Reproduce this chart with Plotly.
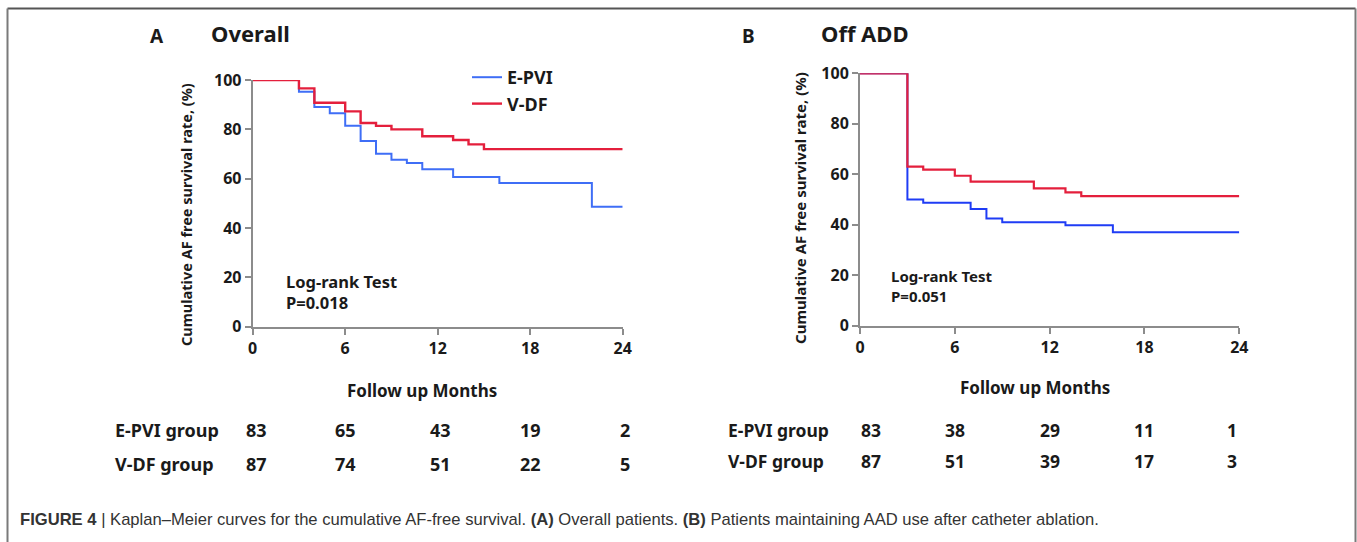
import plotly.graph_objects as go

W, H = 1357, 542

# ---------------- data ----------------
months_ticks = [0, 6, 12, 18, 24]
y_ticks = [0, 20, 40, 60, 80, 100]

a_epvi_t = [0, 3, 4, 5, 6, 7, 8, 9, 10, 11, 13, 16, 22, 24]
a_epvi_s = [100, 95.2, 89.1, 86.5, 81.5, 75.3, 70.1, 67.7, 66.4, 63.8, 60.7, 58.2, 48.6, 48.6]
a_vdf_t = [0, 3, 4, 6, 7, 8, 9, 11, 13, 14, 15, 24]
a_vdf_s = [100, 96.6, 90.8, 87.3, 82.6, 81.4, 80.0, 77.2, 75.7, 73.9, 72.0, 72.0]

b_epvi_t = [0, 3, 4, 7, 8, 9, 13, 16, 24]
b_epvi_s = [100, 50.0, 48.7, 46.2, 42.5, 41.0, 39.8, 37.0, 37.0]
b_vdf_t = [0, 3, 4, 6, 7, 11, 13, 14, 24]
b_vdf_s = [100, 63.0, 61.8, 59.4, 57.1, 54.4, 52.8, 51.3, 51.3]

risk_groups = ["E-PVI group", "V-DF group"]
a_risk_epvi = [83, 65, 43, 19, 2]
a_risk_vdf = [87, 74, 51, 22, 5]
b_risk_epvi = [83, 38, 29, 11, 1]
b_risk_vdf = [87, 51, 39, 17, 3]

# ---------------- style ----------------
FONT = "Noto Sans"
TXT = "#1a1a1a"
BLUE_A = "#3f6ef6"
BLUE_B = "#1f3cf5"
RED = "#e41f3c"
AXC = "#8c8c8c"


def px(x):
    return x / W


def py(y):
    return 1 - y / H


fig = go.Figure()

fig.add_trace(go.Scatter(x=a_epvi_t, y=a_epvi_s, mode="lines", line=dict(shape="hv", color=BLUE_A, width=2),
                         name="E-PVI", xaxis="x", yaxis="y", cliponaxis=False, legendrank=1))
fig.add_trace(go.Scatter(x=a_vdf_t, y=a_vdf_s, mode="lines", line=dict(shape="hv", color=RED, width=2.4),
                         name="V-DF", xaxis="x", yaxis="y", cliponaxis=False, legendrank=2))
fig.add_trace(go.Scatter(x=b_epvi_t, y=b_epvi_s, mode="lines", line=dict(shape="hv", color=BLUE_B, width=2),
                         name="E-PVI", xaxis="x2", yaxis="y2", cliponaxis=False, showlegend=False))
fig.add_trace(go.Scatter(x=b_vdf_t, y=b_vdf_s, mode="lines", line=dict(shape="hv", color=RED, width=2.2),
                         name="V-DF", xaxis="x2", yaxis="y2", cliponaxis=False, showlegend=False))

axis_common = dict(
    showgrid=False, zeroline=False, showline=True, linecolor=AXC, linewidth=2,
    ticks="outside", ticklen=6, tickwidth=2, tickcolor=AXC,
    tickfont=dict(family=FONT, size=16, color=TXT, weight="bold"), fixedrange=True,
)

fig.update_layout(
    width=W, height=H,
    margin=dict(l=0, r=0, t=0, b=0, autoexpand=False),
    paper_bgcolor="white", plot_bgcolor="white",
    font=dict(family=FONT, color=TXT),
    xaxis=dict(domain=[px(252.7), px(622.7)], range=[0, 24], tickvals=months_ticks, anchor="y", **axis_common),
    yaxis=dict(domain=[py(326.7), py(80)], range=[0, 100], tickvals=y_ticks, anchor="x", **axis_common),
    xaxis2=dict(domain=[px(860), px(1239.3)], range=[0, 24], tickvals=months_ticks, anchor="y2", **axis_common),
    yaxis2=dict(domain=[py(325.7), py(73.3)], range=[0, 100], tickvals=y_ticks, anchor="x2", **axis_common),
    showlegend=True,
    legend=dict(x=px(467), y=py(59), xanchor="left", yanchor="top", bgcolor="rgba(0,0,0,0)",
                font=dict(family=FONT, size=18, color=TXT, weight="bold"), tracegroupgap=0),
)

ann = []


def text(x, y, s, size, xanchor="left", bold=True, xref="paper", yref="paper", angle=0, yanchor="middle",
         color=TXT, family=FONT, xshift=0):
    ann.append(dict(x=x, y=y, xref=xref, yref=yref, text=(f"<b>{s}</b>" if bold else s), showarrow=False,
                    xanchor=xanchor, yanchor=yanchor, textangle=angle, xshift=xshift,
                    font=dict(family=family, size=size, color=color)))


# panel titles
text(px(148), py(36), "A", 19)
text(px(209), py(33), "Overall", 22)
text(px(740), py(36), "B", 19)
text(px(819), py(33), "Off ADD", 22)

# y-axis titles
text(px(186), py(215), "Cumulative AF free survival rate, (%)", 14.5, xanchor="center", angle=-90)
text(px(800), py(208), "Cumulative AF free survival rate, (%)", 15, xanchor="center", angle=-90)

# log-rank
text(2.0, 18.2, "Log-rank Test", 16.5, xref="x", yref="y")
text(2.0, 10.0, "P=0.018", 16.5, xref="x", yref="y")
text(1.85, 19.6, "Log-rank Test", 15, xref="x2", yref="y2")
text(1.85, 11.8, "P=0.051", 15, xref="x2", yref="y2")

# x titles
text(px(422), py(390), "Follow up Months", 17, xanchor="center")
text(px(1035), py(387), "Follow up Months", 17, xanchor="center")

# risk tables
a_shift = [4, 0, 3, 0, 2]
b_shift = [11, 0, 0, 0, -7]
for lab, row, yy in [(risk_groups[0], a_risk_epvi, 430), (risk_groups[1], a_risk_vdf, 464)]:
    text(px(113), py(yy), lab, 18)
    for m, v, s in zip(months_ticks, row, a_shift):
        text(m, py(yy), str(v), 18, xanchor="center", xref="x", xshift=s)
for lab, row, yy in [(risk_groups[0], b_risk_epvi, 430), (risk_groups[1], b_risk_vdf, 461)]:
    text(px(726), py(yy), lab, 17.5)
    for m, v, s in zip(months_ticks, row, b_shift):
        text(m, py(yy), str(v), 17.5, xanchor="center", xref="x2", xshift=s)

# caption
cap = ("<b>FIGURE 4</b> | Kaplan–Meier curves for the cumulative AF-free survival. <b>(A)</b> Overall patients. "
       "<b>(B)</b> Patients maintaining AAD use after catheter ablation.")
ann.append(dict(x=px(18), y=py(519), xref="paper", yref="paper", text=cap, showarrow=False,
                xanchor="left", yanchor="middle",
                font=dict(family="Liberation Sans Narrow, Liberation Sans, Arial", size=16.6, color="#333333")))

fig.update_layout(annotations=ann)

# frame
shapes = [
    dict(type="line", xref="paper", yref="paper", x0=px(7.5), x1=px(1355.5), y0=py(8.5), y1=py(8.5),
         line=dict(color="#555555", width=2)),
    dict(type="line", xref="paper", yref="paper", x0=px(7.5), x1=px(7.5), y0=py(8.5), y1=0,
         line=dict(color="#7a7a7a", width=2)),
    dict(type="line", xref="paper", yref="paper", x0=px(1355.5), x1=px(1355.5), y0=py(8.5), y1=0,
         line=dict(color="#7a7a7a", width=2)),
]
fig.update_layout(shapes=shapes)

fig.write_html("out.html", config={"displayModeBar": False},
               post_script="document.body.style.margin='0';document.body.style.overflow='hidden';")
